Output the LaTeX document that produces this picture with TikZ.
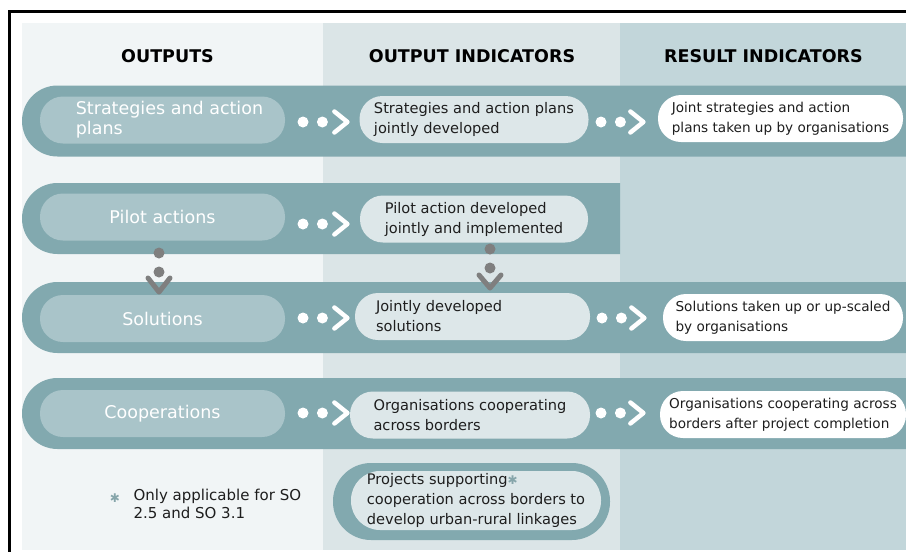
\documentclass[tikz,border=0pt]{standalone}
\usepackage{fontspec}
\setmainfont{DejaVu Sans}
\newfontfamily\symfont{DejaVu Sans}
\definecolor{PALE_Color}{RGB}{241, 245, 246}
\definecolor{MID_Color}{RGB}{219, 229, 231}
\definecolor{DEEP_Color}{RGB}{194, 214, 218}
\definecolor{BAND_Color}{RGB}{130, 169, 175}
\definecolor{OUT_Color}{RGB}{169, 196, 201}
\definecolor{INPILL_Color}{RGB}{221, 231, 233}
\definecolor{GREY_Color}{RGB}{127, 127, 127}
\definecolor{STAR_Color}{RGB}{134, 165, 170}
\definecolor{TEXT_Color}{RGB}{30, 30, 30}
\usetikzlibrary{shapes.misc, positioning}
\tikzset{
    band/.style={rounded rectangle, rounded rectangle right arc=none, fill=BAND_Color, inner sep=0, minimum height=71pt}, % the long teal rows
    pill/.style={rectangle, rounded corners=23pt, inner sep=0, minimum height=47pt, align=left, text=TEXT_Color, font=\fontsize{14.6}{20}\selectfont},
    outpill/.style={pill, fill=OUT_Color, minimum width=245pt, text=white, font=\fontsize{17.5}{20}\selectfont},
    midpill/.style={pill, fill=INPILL_Color},
    respill/.style={pill, fill=white, font=\fontsize{13.6}{20}\selectfont},
    wdot/.style={circle, fill=white, inner sep=0, minimum size=11pt},
    gdot/.style={circle, fill=GREY_Color, inner sep=0, minimum size=11pt},
    wchev/.style={draw=white, line width=4.5pt, line cap=round, line join=round},
    gchev/.style={draw=GREY_Color, line width=5pt, line cap=round, line join=round},
    head/.style={font=\fontsize{17.5}{20}\selectfont\bfseries, text=black},
    foot/.style={align=left, text=TEXT_Color, font=\fontsize{15}{18.5}\selectfont},
    }

\begin{document}
\begin{tikzpicture}
    [x=1pt, y=-1pt]
\useasboundingbox (0,0) rectangle (906,552);

% column backgrounds
\fill[PALE_Color] (22,23) rectangle (323,550);
\fill[MID_Color] (323,23) rectangle (620,550);
\fill[DEEP_Color] (620,23) rectangle (906,550);
\draw[line width=2.5pt] (9.5,552) -- (9.5,11.5) -- (906,11.5);

\node[head] (h1) at (167.5,56) {OUTPUTS};
\node[head] (h2) at (472,56) {OUTPUT INDICATORS};
\node[head] (h3) at (763.5,56) {RESULT INDICATORS};

% row 1
\node[band, minimum width=884pt] (b1) at (464,121) {};
\node[outpill] (o1) at (162.5,120) {};
\node[align=left, text=white, font=\fontsize{17.5}{20}\selectfont] (o1t) at (169.5,120) {Strategies and action\\plans};
\node[midpill, minimum width=229pt] (m1) at (474,119.5) {Strategies and action plans\\jointly developed};
\node[respill, minimum width=245pt] (r1) at (780.5,118.5) {Joint strategies and action\\plans taken up by organisations};
\node[wdot] (a11) at (303,122) {};
\node[wdot, right=8pt of a11] (a12) {};
\draw[wchev] ([xshift=12pt,yshift=10.5pt]a12.center) -- ([xshift=25pt]a12.center) -- ([xshift=12pt,yshift=-10.5pt]a12.center);
\node[wdot] (a13) at (601,122) {};
\node[wdot, right=8pt of a13] (a14) {};
\draw[wchev] ([xshift=10pt,yshift=10.5pt]a14.center) -- ([xshift=23pt]a14.center) -- ([xshift=10pt,yshift=-10.5pt]a14.center);

% row 2
\node[band, minimum width=598pt] (b2) at (321,218.5) {};
\node[outpill] (o2) at (162.5,217) {Pilot actions};
\node[midpill, minimum width=228pt] (m2) at (474,219) {Pilot action developed\\jointly and implemented};
\node[wdot] (a21) at (303,224) {};
\node[wdot, right=8pt of a21] (a22) {};
\draw[wchev] ([xshift=12pt,yshift=10.5pt]a22.center) -- ([xshift=25pt]a22.center) -- ([xshift=12pt,yshift=-10.5pt]a22.center);

% row 3
\node[band, minimum width=884pt] (b3) at (464,317.5) {};
\node[outpill] (o3) at (162.5,318.5) {Solutions};
\node[midpill, minimum width=235pt, text width=193pt] (m3) at (472.5,316.5) {Jointly developed\\solutions};
\node[respill, minimum width=240pt] (r3) at (783,317.5) {Solutions taken up or up-scaled\\by organisations};
\node[wdot] (a31) at (303,318) {};
\node[wdot, right=8pt of a31] (a32) {};
\draw[wchev] ([xshift=12pt,yshift=10.5pt]a32.center) -- ([xshift=25pt]a32.center) -- ([xshift=12pt,yshift=-10.5pt]a32.center);
\node[wdot] (a33) at (602,318) {};
\node[wdot, right=8pt of a33] (a34) {};
\draw[wchev] ([xshift=10pt,yshift=10.5pt]a34.center) -- ([xshift=23pt]a34.center) -- ([xshift=10pt,yshift=-10.5pt]a34.center);

% row 4
\node[band, minimum width=884pt] (b4) at (464,413.5) {};
\node[outpill] (o4) at (162.5,413.5) {Cooperations};
\node[midpill, minimum width=240pt] (m4) at (470,415) {Organisations cooperating\\across borders};
\node[respill, minimum width=246pt] (r4) at (783,414.5) {Organisations cooperating across\\borders after project completion};
\node[wdot] (a41) at (303,413) {};
\node[wdot, right=8pt of a41] (a42) {};
\draw[wchev] ([xshift=12pt,yshift=10.5pt]a42.center) -- ([xshift=25pt]a42.center) -- ([xshift=12pt,yshift=-10.5pt]a42.center);
\node[wdot] (a43) at (601,413) {};
\node[wdot, right=8pt of a43] (a44) {};
\draw[wchev] ([xshift=10pt,yshift=10.5pt]a44.center) -- ([xshift=23pt]a44.center) -- ([xshift=10pt,yshift=-10.5pt]a44.center);

% pilot actions lead to solutions
\node[gdot] (p1) at (159,253) {};
\node[gdot] (p2) at (159,272) {};
\draw[gchev] ([xshift=-11pt,yshift=-6pt]p2.center) -- ([yshift=-20pt]p2.center) -- ([xshift=11pt,yshift=-6pt]p2.center);
\node[gdot] (p3) at (490,249) {};
\node[gdot] (p4) at (490,268) {};
\draw[gchev] ([xshift=-11pt,yshift=-7pt]p4.center) -- ([yshift=-20pt]p4.center) -- ([xshift=11pt,yshift=-7pt]p4.center);

% extra indicator
\node[rectangle, rounded corners=38pt, fill=BAND_Color, inner sep=0, minimum width=277pt, minimum height=77pt] (pb) at (471.5,501.5) {};
\node[midpill, rounded corners=29pt, minimum width=250pt, minimum height=59pt] (pt) at (476,500.5) {Projects supporting{\symfont\color{STAR_Color}\fontsize{12}{12}\selectfont ✱}\\cooperation across borders to\\develop urban-rural linkages};

\node[text=STAR_Color, font=\symfont\fontsize{12}{12}\selectfont] (fs) at (115,498) {✱};
\node[foot, anchor=west] (fn) at (130,504) {Only applicable for SO\\2.5 and SO 3.1};
\end{tikzpicture}
\end{document}
